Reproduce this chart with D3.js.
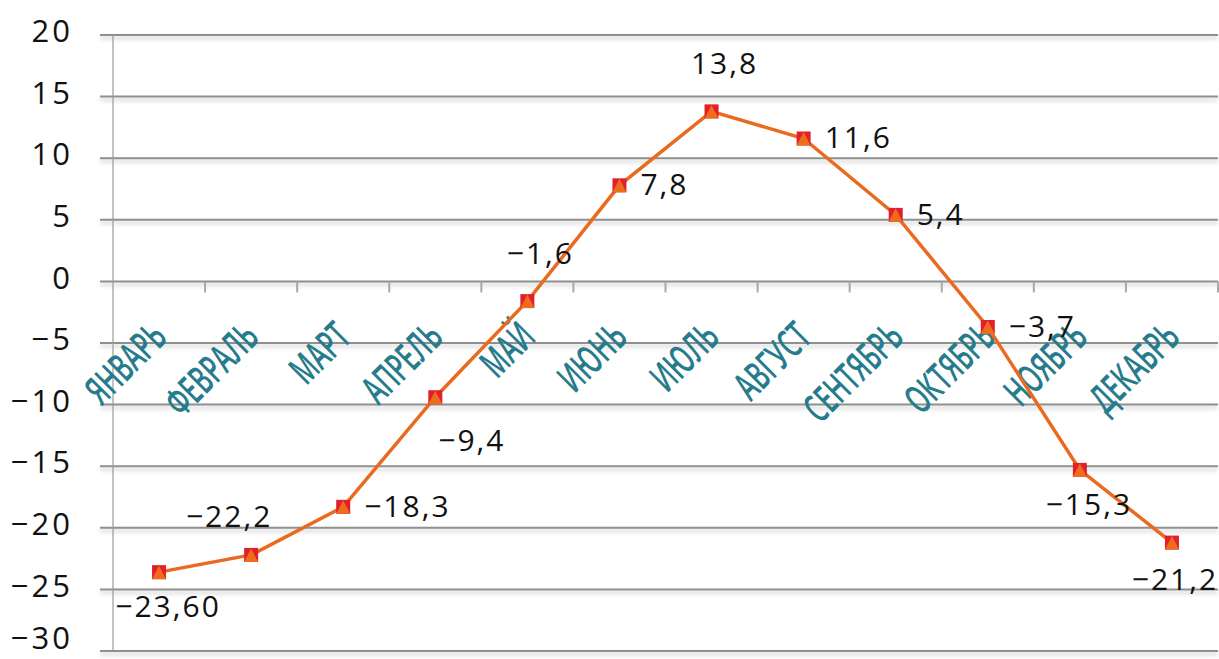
<!DOCTYPE html>
<html>
<head>
<meta charset="utf-8">
<script src="https://cdn.jsdelivr.net/npm/d3@7"></script>
<style>
  body { margin: 0; background: #fff; }
  text { font-family: 'Open Sans', sans-serif; }
</style>
</head>
<body>
<div id="chart"></div>
<script>
const months = ['ЯНВАРЬ', 'ФЕВРАЛЬ', 'МАРТ', 'АПРЕЛЬ', 'МАЙ', 'ИЮНЬ', 'ИЮЛЬ', 'АВГУСТ', 'СЕНТЯБРЬ', 'ОКТЯБРЬ', 'НОЯБРЬ', 'ДЕКАБРЬ']
const temps = [-23.6, -22.2, -18.3, -9.4, -1.6, 7.8, 13.8, 11.6, 5.4, -3.7, -15.3, -21.2]
const tempLabels = ['−23,60', '−22,2', '−18,3', '−9,4', '−1,6', '7,8', '13,8', '11,6', '5,4', '−3,7', '−15,3', '−21,2']
const labelSide = ['below', 'aboveLeft', 'right', 'belowRight', 'above', 'right', 'above', 'right', 'right', 'right', 'below', 'belowLeft']
const yTicks = [20, 15, 10, 5, 0, -5, -10, -15, -20, -25, -30]

function renderLineChart({ nodeId, chartWidth = 1219, chartHeight = 659 }) {
  const margin = { top: 35, right: 1, bottom: 8, left: 113 }
  const width = chartWidth - margin.left - margin.right
  const height = chartHeight - margin.top - margin.bottom

  const svg = d3.select(`#${nodeId}`)
    .append('svg')
      .attr('width', chartWidth)
      .attr('height', chartHeight)

  // soft shadow under the gridlines
  svg.append('defs')
    .append('filter')
      .attr('id', 'shadow')
      .attr('filterUnits', 'userSpaceOnUse')
      .attr('x', -200).attr('y', -100)
      .attr('width', chartWidth + 400).attr('height', chartHeight + 200)
    .append('feDropShadow')
      .attr('dx', 0)
      .attr('dy', 3)
      .attr('stdDeviation', 2)
      .attr('flood-color', '#000')
      .attr('flood-opacity', 0.22)

  const g = svg.append('g')
      .attr('transform', `translate(${margin.left}, ${margin.top})`)

  const x = d3.scaleBand()
    .domain(months)
    .range([0, width])

  const y = d3.scaleLinear()
    .domain([-30, 20])
    .range([height, 0])

  // gridlines
  g.append('g')
    .selectAll('line')
    .data(yTicks)
    .enter()
    .append('line')
      .attr('x1', -13)
      .attr('x2', width)
      .attr('y1', d => y(d))
      .attr('y2', d => y(d))
      .attr('stroke', '#8f8f8f')
      .attr('stroke-width', 2)
      .attr('filter', 'url(#shadow)')

  // y axis labels
  const yAxis = g.append('g')
    .call(d3.axisLeft(y).tickValues(yTicks).tickSize(0).tickPadding(40)
      .tickFormat(d => String(d).replace('-', '−')))
  yAxis.select('.domain').remove()
  yAxis.selectAll('.tick')
      .attr('transform', d => `translate(0, ${Math.min(y(d) - 4, height - 13)})`)
  yAxis.selectAll('text')
      .attr('font-size', 31)
      .attr('letter-spacing', 3)
      .attr('fill', '#111')
      .attr('dy', '0.36em')

  g.append('line')
      .attr('x1', 0).attr('x2', 0)
      .attr('y1', 0).attr('y2', height)
      .attr('stroke', '#999')
      .attr('stroke-width', 1.2)

  // category ticks on the zero line
  g.append('g')
    .selectAll('line')
    .data(months)
    .enter()
    .append('line')
      .attr('x1', d => x(d) + x.bandwidth())
      .attr('x2', d => x(d) + x.bandwidth())
      .attr('y1', y(0))
      .attr('y2', y(0) + 11)
      .attr('stroke', '#a8a8a8')
      .attr('stroke-width', 2)

  g.append('g')
    .selectAll('text')
    .data(months)
    .enter()
    .append('text')
      .attr('transform', d => `translate(${x(d) + x.bandwidth() / 2 + 10}, ${y(0) + 58}) rotate(-45) scale(0.6, 1)`)
      .attr('text-anchor', 'end')
      .attr('font-size', 40)
      .attr('font-weight', 600)
      .attr('fill', '#267b8c')
      .text(d => d)

  // line
  const line = d3.line()
    .x((d, i) => x(months[i]) + x.bandwidth() / 2)
    .y(d => y(d))

  g.append('path')
      .attr('d', line(temps))
      .attr('stroke', '#ea6a1f')
      .attr('stroke-width', 3.5)
      .attr('fill', 'none')

  // markers
  const markers = g.selectAll('.marker')
    .data(temps)
    .enter()
    .append('g')
      .attr('class', 'marker')
      .attr('transform', (d, i) => `translate(${x(months[i]) + x.bandwidth() / 2}, ${y(d)})`)

  markers.append('rect')
      .attr('x', -7).attr('y', -7)
      .attr('width', 14).attr('height', 14)
      .attr('fill', '#e2202b')

  markers.append('path')
      .attr('d', 'M0,-6.5L7,7L-7,7Z')
      .attr('fill', '#ef6c1c')

  // data labels
  const offsets = {
    below: [9, 45, 'middle'],
    belowLeft: [3, 47, 'middle'],
    aboveLeft: [-22, -28, 'middle'],
    right: [21, 10, 'start'],
    belowRight: [3, 54, 'start'],
    above: [13, -37, 'middle'],
  }

  g.selectAll('.value')
    .data(temps)
    .enter()
    .append('text')
      .attr('class', 'value')
      .attr('x', (d, i) => x(months[i]) + x.bandwidth() / 2 + offsets[labelSide[i]][0])
      .attr('y', (d, i) => y(d) + offsets[labelSide[i]][1])
      .attr('text-anchor', (d, i) => offsets[labelSide[i]][2])
      .attr('font-size', 30)
      .attr('letter-spacing', 2)
      .attr('fill', '#111')
      .text((d, i) => tempLabels[i])
}

renderLineChart({ nodeId: 'chart' })
</script>
</body>
</html>
